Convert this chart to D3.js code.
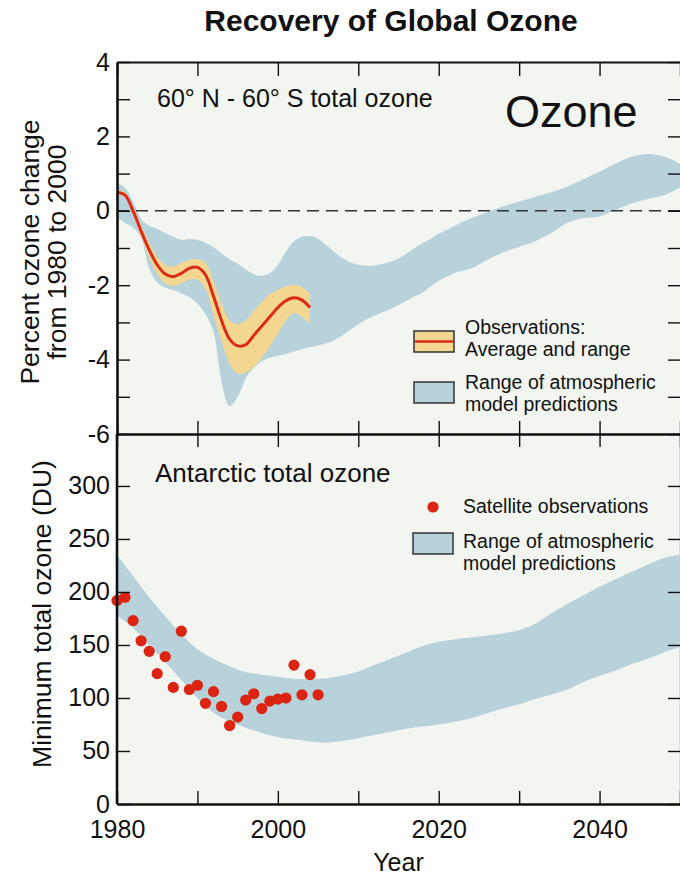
<!DOCTYPE html>
<html>
<head>
<meta charset="utf-8">
<script src="https://cdn.jsdelivr.net/npm/d3@7"></script>
<style>
  html, body { margin: 0; padding: 0; background: #ffffff; }
  svg { display: block; font-family: "Liberation Sans", Arial, Helvetica, sans-serif; }
</style>
</head>
<body>
<svg id="chart" width="680" height="879"></svg>
<script>
// ---- Data -------------------------------------------------------------
// X axis (years)
const xTickYears = [1980, 1990, 2000, 2010, 2020, 2030, 2040, 2050];
const xLabelYears = [1980, 2000, 2020, 2040];

// Upper panel: 60N-60S percent ozone change
const topTicks = [-6, -5, -4, -3, -2, -1, 0, 1, 2, 3, 4];
const topLabels = [-6, -4, -2, 0, 2, 4];

const obsYears = [1980, 1981, 1982, 1983, 1984, 1985, 1986, 1987, 1988, 1989,
  1990, 1991, 1992, 1993, 1994, 1995, 1996, 1997, 1998, 1999,
  2000, 2001, 2002, 2003, 2004];
const obsAvg = [0.5, 0.42, 0.0, -0.55, -1.05, -1.45, -1.7, -1.77, -1.68, -1.55,
  -1.52, -1.72, -2.3, -2.95, -3.45, -3.63, -3.6, -3.35, -3.1, -2.85,
  -2.6, -2.42, -2.34, -2.4, -2.6];
const obsLow = [0.45, 0.35, -0.1, -0.7, -1.25, -1.7, -1.95, -2.02, -1.95, -1.85,
  -1.85, -2.1, -2.8, -3.5, -4.1, -4.38, -4.35, -4.2, -3.95, -3.65,
  -3.3, -2.95, -2.75, -2.85, -3.05];
const obsHigh = [0.55, 0.5, 0.1, -0.4, -0.85, -1.25, -1.45, -1.5, -1.4, -1.32,
  -1.3, -1.4, -1.9, -2.5, -2.95, -3.05, -2.95, -2.7, -2.45, -2.25,
  -2.12, -2.03, -2.0, -2.05, -2.24];

const modelTopYears = [1980, 1981, 1982, 1983, 1984, 1985, 1986, 1987, 1988, 1989,
  1990, 1991, 1992, 1993, 1994, 1995, 1996, 1997, 1998, 1999,
  2000, 2001, 2002, 2003, 2004, 2005, 2006, 2007, 2008, 2009,
  2010, 2011, 2012, 2013, 2014, 2015, 2016, 2017, 2018, 2019,
  2020, 2022, 2024, 2026, 2028, 2030, 2032, 2034, 2036, 2038,
  2040, 2042, 2044, 2046, 2048, 2050];
const modelTopLow = [-0.18, -0.32, -0.45, -0.72, -1.55, -1.93, -2.07, -2.13, -2.22, -2.32,
  -2.5, -2.78, -3.25, -4.6, -5.25, -5.0, -4.5, -4.22, -4.05, -3.95,
  -3.9, -3.85, -3.78, -3.72, -3.67, -3.62, -3.56, -3.48, -3.35, -3.2,
  -3.05, -2.92, -2.82, -2.73, -2.63, -2.53, -2.42, -2.3, -2.2, -2.03,
  -1.88, -1.67, -1.55, -1.32, -1.12, -0.97, -0.82, -0.6, -0.32, -0.2,
  -0.15, 0.02, 0.2, 0.32, 0.42, 0.62];
const modelTopHigh = [0.74, 0.62, 0.25, -0.22, -0.4, -0.48, -0.6, -0.7, -0.78, -0.76,
  -0.78, -0.86, -0.98, -1.15, -1.3, -1.42, -1.58, -1.7, -1.75, -1.68,
  -1.45, -1.1, -0.82, -0.7, -0.68, -0.75, -0.92, -1.1, -1.27, -1.38,
  -1.45, -1.48, -1.47, -1.43, -1.37, -1.28, -1.15, -1.0, -0.87, -0.75,
  -0.62, -0.4, -0.2, -0.04, 0.12, 0.25, 0.38, 0.5, 0.65, 0.85,
  1.05, 1.27, 1.45, 1.53, 1.46, 1.26];

// Lower panel: Antarctic minimum total ozone (DU)
const bottomTicks = [0, 50, 100, 150, 200, 250, 300];

const satYears = [1980, 1981, 1982, 1983, 1984, 1985, 1986, 1987, 1988, 1989,
  1990, 1991, 1992, 1993, 1994, 1995, 1996, 1997, 1998, 1999,
  2000, 2001, 2002, 2003, 2004, 2005];
const satOzone = [192, 195, 173, 154, 144, 123, 139, 110, 163, 108,
  112, 95, 106, 92, 74, 82, 98, 104, 90, 97,
  99, 100, 131, 103, 122, 103];

const modelBotYears = [1980, 1982, 1984, 1986, 1988, 1990, 1992, 1994, 1996, 1998,
  2000, 2002, 2004, 2006, 2008, 2010, 2012, 2014, 2016, 2018,
  2020, 2022, 2024, 2026, 2028, 2030, 2032, 2034, 2036, 2038,
  2040, 2042, 2044, 2046, 2048, 2050];
const modelBotLow = [178, 166, 150, 134, 117, 100, 86, 78, 72, 67,
  63, 61, 59, 58, 59.5, 62, 65, 68, 71, 73,
  75, 77.5, 81, 85.5, 90, 94, 99, 103, 108, 115,
  121, 126, 132, 137, 143, 148];
const modelBotHigh = [235, 215, 195, 177, 160, 146, 137, 130, 124.5, 122,
  120, 118, 118, 118.5, 121, 125, 131, 137, 143, 149,
  153, 155.5, 157, 159, 161, 164, 170, 180, 189, 197,
  205, 212, 219, 226, 232, 235];

// ---- Styles -------------------------------------------------------------
const C = {
  panel: "#f2f5f0",
  model: "#b8d2dc",
  obsBand: "#f3d790",
  red: "#dd2a16",
  dot: "#dc2412",
  ink: "#111111"
};
const FONT_TICK = 25;
const FONT_AXIS_TITLE = "26.5px";

// ---- Layout & scales -----------------------------------------------------
const L = 117, R = 680;
const topY0 = 62, divY = 434, botY1 = 804;

const x = d3.scaleLinear().domain([1980, 2050]).range([L, R]);
const yTop = d3.scaleLinear().domain([-6, 4]).range([divY, topY0]);
const yBot = d3.scaleLinear().domain([0, 349]).range([botY1, divY]);

const svg = d3.select("#chart");

// Panel backgrounds
svg.append("rect").attr("x", L).attr("y", topY0).attr("width", R - L).attr("height", divY - topY0).attr("fill", C.panel);
svg.append("rect").attr("x", L).attr("y", divY).attr("width", R - L).attr("height", botY1 - divY).attr("fill", C.panel);

const defs = svg.append("defs");
defs.append("clipPath").attr("id", "clipTop").append("rect")
  .attr("x", L).attr("y", topY0).attr("width", R - L).attr("height", divY - topY0);
defs.append("clipPath").attr("id", "clipBot").append("rect")
  .attr("x", L).attr("y", divY).attr("width", R - L).attr("height", botY1 - divY);

// ---- Upper panel ----------------------------------------------------------
const gTop = svg.append("g").attr("clip-path", "url(#clipTop)");

const modelTop = modelTopYears.map((yr, i) => ({ yr, lo: modelTopLow[i], hi: modelTopHigh[i] }));
gTop.append("path")
  .datum(modelTop)
  .attr("fill", C.model)
  .attr("d", d3.area().curve(d3.curveCatmullRom.alpha(0.5))
    .x(d => x(d.yr)).y0(d => yTop(d.lo)).y1(d => yTop(d.hi)));

// zero reference
gTop.append("line")
  .attr("x1", L).attr("x2", R).attr("y1", yTop(0)).attr("y2", yTop(0))
  .attr("stroke", "#333").attr("stroke-width", 1.6).attr("stroke-dasharray", "12,7");

const obs = obsYears.map((yr, i) => ({ yr, avg: obsAvg[i], lo: obsLow[i], hi: obsHigh[i] }));
gTop.append("path")
  .datum(obs)
  .attr("fill", C.obsBand)
  .attr("d", d3.area().curve(d3.curveCatmullRom.alpha(0.5))
    .x(d => x(d.yr)).y0(d => yTop(d.lo)).y1(d => yTop(d.hi)));
gTop.append("path")
  .datum(obs)
  .attr("fill", "none")
  .attr("stroke", C.red)
  .attr("stroke-width", 3)
  .attr("stroke-linejoin", "round")
  .attr("d", d3.line().curve(d3.curveCatmullRom.alpha(0.5))
    .x(d => x(d.yr)).y(d => yTop(d.avg)));

// ---- Lower panel ----------------------------------------------------------
const gBot = svg.append("g").attr("clip-path", "url(#clipBot)");
const modelBot = modelBotYears.map((yr, i) => ({ yr, lo: modelBotLow[i], hi: modelBotHigh[i] }));
gBot.append("path")
  .datum(modelBot)
  .attr("fill", C.model)
  .attr("d", d3.area().curve(d3.curveCatmullRom.alpha(0.5))
    .x(d => x(d.yr)).y0(d => yBot(d.lo)).y1(d => yBot(d.hi)));

const sat = satYears.map((yr, i) => ({ yr, v: satOzone[i] }));
svg.append("g").selectAll("circle")
  .data(sat)
  .join("circle")
  .attr("cx", d => x(d.yr))
  .attr("cy", d => yBot(d.v))
  .attr("r", 5.6)
  .attr("fill", C.dot);

// ---- Axes -----------------------------------------------------------------
function styleAxis(g, domainWidth) {
  g.select(".domain").attr("stroke", C.ink).attr("stroke-width", domainWidth);
  g.selectAll(".tick line").attr("stroke", C.ink).attr("stroke-width", 1.4);
  g.selectAll(".tick text").attr("fill", C.ink)
    .style("font-size", FONT_TICK + "px")
    .style("font-family", "'Liberation Sans', Arial, Helvetica, sans-serif");
}

// left, upper panel
svg.append("g").attr("transform", `translate(${L},0)`)
  .call(d3.axisLeft(yTop).tickValues(topTicks).tickSizeInner(-13).tickSizeOuter(0).tickPadding(7)
    .tickFormat(d => topLabels.includes(d) ? String(d) : ""))
  .call(g => styleAxis(g, 2.6));

// left, lower panel
svg.append("g").attr("transform", `translate(${L},0)`)
  .call(d3.axisLeft(yBot).tickValues(bottomTicks).tickSizeInner(-13).tickSizeOuter(0).tickPadding(7)
    .tickFormat(d => String(d)))
  .call(g => styleAxis(g, 2.6))
  .call(g => g.select(".domain").attr("d", `M0,${divY}V${botY1}`));

// right, both panels (ticks only)
svg.append("g").attr("transform", `translate(${R},0)`)
  .call(d3.axisRight(yTop).tickValues(topTicks).tickSizeInner(-12).tickSizeOuter(0).tickFormat(""))
  .call(g => styleAxis(g, 1))
  .call(g => g.select(".domain").attr("stroke", "#c9cbc8"));
svg.append("g").attr("transform", `translate(${R},0)`)
  .call(d3.axisRight(yBot).tickValues(bottomTicks).tickSizeInner(-12).tickSizeOuter(0).tickFormat(""))
  .call(g => styleAxis(g, 1))
  .call(g => g.select(".domain").attr("stroke", "#c9cbc8").attr("d", `M0,${divY}V${botY1}`));

// top edge
svg.append("g").attr("transform", `translate(0,${topY0})`)
  .call(d3.axisTop(x).tickValues(xTickYears).tickSizeInner(-14).tickSizeOuter(0).tickFormat(""))
  .call(g => styleAxis(g, 2.2));

// divider between panels: ticks point into both panels
svg.append("g").attr("transform", `translate(0,${divY})`)
  .call(d3.axisBottom(x).tickValues(xTickYears).tickSizeInner(-13).tickSizeOuter(0).tickFormat(""))
  .call(g => styleAxis(g, 2.2));
svg.append("g").attr("transform", `translate(0,${divY})`)
  .call(d3.axisTop(x).tickValues(xTickYears).tickSizeInner(-13).tickSizeOuter(0).tickFormat(""))
  .call(g => styleAxis(g, 2.2));

// bottom edge with year labels
svg.append("g").attr("transform", `translate(0,${botY1})`)
  .call(d3.axisBottom(x).tickValues(xTickYears).tickSizeInner(-13).tickSizeOuter(0).tickPadding(16)
    .tickFormat(d => xLabelYears.includes(d) ? String(d) : ""))
  .call(g => styleAxis(g, 2.6));

// ---- Text -----------------------------------------------------------------
svg.append("text")
  .attr("x", 391).attr("y", 31)
  .attr("text-anchor", "middle")
  .style("font-size", "30px").style("font-weight", "bold")
  .attr("fill", C.ink)
  .text("Recovery of Global Ozone");

svg.append("text")
  .attr("x", L + (R - L) / 2).attr("y", 871)
  .attr("text-anchor", "middle")
  .style("font-size", "25px").attr("fill", C.ink)
  .text("Year");

const yTitleTop = svg.append("text")
  .attr("transform", `translate(0,${(topY0 + divY) / 2 + 4}) rotate(-90)`)
  .attr("text-anchor", "middle")
  .style("font-size", FONT_AXIS_TITLE).attr("fill", C.ink);
yTitleTop.append("tspan").attr("x", 0).attr("y", 39).text("Percent ozone change");
yTitleTop.append("tspan").attr("x", 0).attr("y", 66).text("from 1980 to 2000");

svg.append("text")
  .attr("transform", `translate(51,${(divY + botY1) / 2 - 5}) rotate(-90)`)
  .attr("text-anchor", "middle")
  .style("font-size", FONT_AXIS_TITLE).attr("fill", C.ink)
  .text("Minimum total ozone (DU)");

svg.append("text")
  .attr("x", 157).attr("y", 107)
  .style("font-size", "25px").attr("fill", C.ink)
  .text("60° N - 60° S total ozone");

svg.append("text")
  .attr("x", 505).attr("y", 127)
  .style("font-size", "45px").attr("fill", C.ink)
  .text("Ozone");

svg.append("text")
  .attr("x", 155).attr("y", 482)
  .style("font-size", "26px").attr("fill", C.ink)
  .text("Antarctic total ozone");

// ---- Legends --------------------------------------------------------------
const LEG_FONT = "19.5px";
const legTop = svg.append("g");
legTop.append("rect").attr("x", 414).attr("y", 331).attr("width", 40).attr("height", 21)
  .attr("fill", C.obsBand).attr("stroke", "#333").attr("stroke-width", 1.5);
legTop.append("line").attr("x1", 415).attr("x2", 453).attr("y1", 341.5).attr("y2", 341.5)
  .attr("stroke", C.red).attr("stroke-width", 2.5);
legTop.append("text").attr("x", 465).attr("y", 334).style("font-size", LEG_FONT).attr("fill", C.ink).text("Observations:");
legTop.append("text").attr("x", 465).attr("y", 356).style("font-size", LEG_FONT).attr("fill", C.ink).text("Average and range");
legTop.append("rect").attr("x", 414).attr("y", 382).attr("width", 40).attr("height", 21)
  .attr("fill", C.model).attr("stroke", "#333").attr("stroke-width", 1.5);
legTop.append("text").attr("x", 465).attr("y", 389).style("font-size", LEG_FONT).attr("fill", C.ink).text("Range of atmospheric");
legTop.append("text").attr("x", 465).attr("y", 411).style("font-size", LEG_FONT).attr("fill", C.ink).text("model predictions");

const legBot = svg.append("g");
legBot.append("circle").attr("cx", 433).attr("cy", 507).attr("r", 5.6).attr("fill", C.dot);
legBot.append("text").attr("x", 463).attr("y", 513).style("font-size", LEG_FONT).attr("fill", C.ink).text("Satellite observations");
legBot.append("rect").attr("x", 413).attr("y", 533).attr("width", 40).attr("height", 21)
  .attr("fill", C.model).attr("stroke", "#333").attr("stroke-width", 1.5);
legBot.append("text").attr("x", 463).attr("y", 548).style("font-size", LEG_FONT).attr("fill", C.ink).text("Range of atmospheric");
legBot.append("text").attr("x", 463).attr("y", 570).style("font-size", LEG_FONT).attr("fill", C.ink).text("model predictions");
</script>
</body>
</html>
